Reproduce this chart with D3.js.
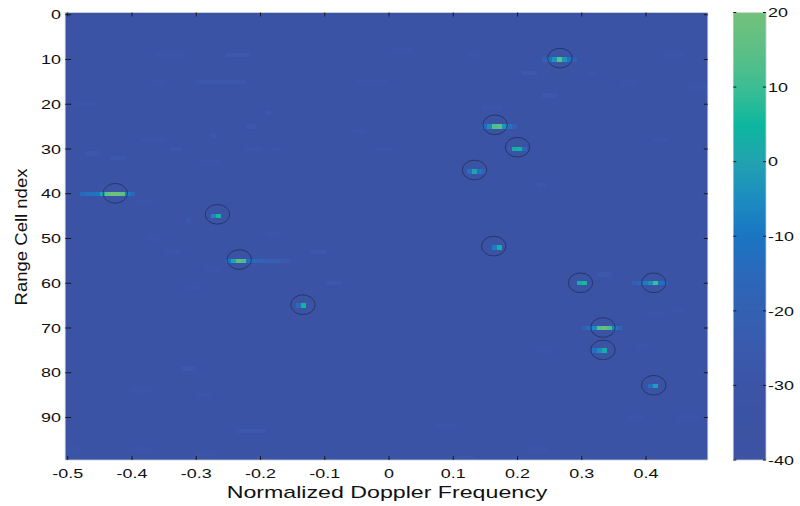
<!DOCTYPE html>
<html>
<head>
<meta charset="utf-8">
<script src="https://cdn.jsdelivr.net/npm/d3@7/dist/d3.min.js"></script>
<style>
  html, body { margin: 0; padding: 0; background: #fff; }
  svg { display: block; }
  text { font-family: "Liberation Sans", Arial, sans-serif; fill: #111; }
</style>
</head>
<body>
<svg id="chart" width="800" height="506"></svg>
<script>
// Range-Doppler map: 100 range cells x 128 Doppler bins, power in dB.
const nRange = 100;
const nDoppler = 128;
const floorDb = -34;

// Doppler bin centres: -0.5 + k/128
const dopplerTicks = [-0.5, -0.4, -0.3, -0.2, -0.1, 0, 0.1, 0.2, 0.3, 0.4];
const dopplerTickLabels = ["-0.5", "-0.4", "-0.3", "-0.2", "-0.1", "0", "0.1", "0.2", "0.3", "0.4"];
const rangeTicks = [0, 10, 20, 30, 40, 50, 60, 70, 80, 90];
const colorbarTicks = [20, 10, 0, -10, -20, -30, -40];

// Slightly raised clutter/noise streaks: [range cell, first bin, last bin, dB]
const noisePatches = [
  [8, 65, 68, -28], [9, 18, 23, -28], [9, 32, 36, -27], [9, 80, 82, -28], [9, 119, 122, -28],
  [13, 91, 93, -27], [13, 104, 105, -28], [15, 17, 19, -28], [15, 26, 35, -27], [15, 58, 63, -28],
  [15, 111, 113, -28], [16, 124, 127, -28], [18, 95, 97, -27], [20, 2, 5, -28], [21, 83, 86, -28],
  [22, 40, 40, -25], [25, 36, 37, -27], [26, 57, 59, -28], [27, 29, 29, -26], [28, 15, 19, -28],
  [28, 117, 119, -28], [30, 21, 22, -27], [30, 36, 38, -28], [30, 41, 42, -28], [30, 62, 64, -28],
  [31, 4, 6, -27], [32, 9, 11, -27], [33, 27, 30, -28], [38, 94, 95, -26], [42, 14, 16, -28],
  [46, 24, 24, -27], [49, 40, 42, -28], [50, 16, 18, -28], [53, 20, 22, -28], [53, 49, 51, -26],
  [57, 28, 30, -28], [58, 106, 108, -27], [60, 52, 54, -27], [61, 24, 26, -28], [66, 121, 122, -28],
  [67, 116, 118, -28], [74, 114, 115, -28], [75, 94, 96, -28], [79, 23, 25, -26], [84, 13, 16, -28],
  [85, 26, 28, -28], [90, 112, 114, -28], [90, 122, 125, -28], [92, 74, 77, -28], [93, 34, 39, -27],
  [97, 0, 2, -28], [97, 13, 16, -28], [97, 92, 95, -28], [98, 26, 29, -28], [99, 78, 81, -28]
];

// Target returns: [range cell, Doppler bin, dB]
const targetCells = [
  [10, 95, -20], [10, 96, -10], [10, 97, -3], [10, 98, 15], [10, 99, -3], [10, 100, -10], [10, 101, -20],
  [25, 83, -15], [25, 84, -5], [25, 85, 13], [25, 86, 15], [25, 87, -3], [25, 88, -12], [25, 89, -22],
  [30, 88, -25], [30, 89, 2], [30, 90, 5], [30, 91, -15],
  [35, 80, -12], [35, 81, 0], [35, 82, -10], [35, 83, -20],
  [40, 3, -15], [40, 4, -12], [40, 5, -12], [40, 6, -10], [40, 7, 0], [40, 8, 16], [40, 9, 19],
  [40, 10, 19], [40, 11, 16], [40, 12, -8], [40, 13, -15],
  [45, 29, -6], [45, 30, 6],
  [52, 85, -8], [52, 86, 3],
  [55, 32, -10], [55, 33, 2], [55, 34, 14], [55, 35, 12], [55, 36, -12], [55, 37, -15], [55, 38, -18],
  [55, 39, -19], [55, 40, -20], [55, 41, -22], [55, 42, -23], [55, 43, -25], [55, 44, -27],
  [60, 102, 3], [60, 103, 6],
  [60, 113, -22], [60, 114, -15], [60, 115, -8], [60, 116, -4], [60, 117, 10], [60, 118, -10], [60, 119, -14],
  [65, 46, -15], [65, 47, 5],
  [70, 103, -20], [70, 104, -12], [70, 105, -5], [70, 106, 14], [70, 107, 17], [70, 108, 12], [70, 109, -8], [70, 110, -15],
  [75, 105, -12], [75, 106, -5], [75, 107, 3],
  [83, 116, -12], [83, 117, -1]
];

// Detections marked on the map: Doppler and range of each circle centre
const detectDoppler = [0.266, 0.165, 0.200, 0.133, -0.426, -0.267, 0.163, -0.233, 0.298, 0.412, -0.134, 0.333, 0.333, 0.412];
const detectRange   = [9.7, 24.6, 29.6, 34.7, 39.9, 44.6, 51.7, 54.7, 59.9, 59.9, 64.8, 69.9, 74.9, 82.8];

// Build the power matrix
const power = [];
for (let r = 0; r < nRange; r++) power.push(new Array(nDoppler).fill(floorDb));
noisePatches.forEach(([r, k0, k1, v]) => { for (let k = k0; k <= k1; k++) power[r][k] = v; });
targetCells.forEach(([r, k, v]) => { power[r][k] = v; });

const cells = [];
for (let r = 0; r < nRange; r++)
  for (let k = 0; k < nDoppler; k++)
    cells.push({ r, f: -0.5 + k / nDoppler, v: power[r][k] });

// Colour map
const cmapStops = [-40, -30, -25, -20, -15, -10, -5, 0, 5, 10, 15, 20];
const cmapColors = ["#3c52a3", "#3b54a6", "#3a5aae", "#3460b2", "#2b68ba", "#1a75c3", "#1b8cc0", "#21a2b0",
                    "#0db79f", "#3cbd93", "#5cbf85", "#72c27a"];
const color = d3.scaleLinear().domain(cmapStops).range(cmapColors).interpolate(d3.interpolateRgb).clamp(true);

const svg = d3.select("#chart");
const X0 = 65.2, X1 = 707.8, Y0 = 12.5, Y1 = 460;
const half = 0.5 / nDoppler;
const x = d3.scaleLinear().domain([-0.5 - half, 0.5 - 1 / nDoppler + half]).range([X0, X1]);
const y = d3.scaleLinear().domain([-0.5, nRange - 0.5]).range([Y0, Y1]);
const cw = x(1 / nDoppler) - x(0);
const ch = y(1) - y(0);

const defs = svg.append("defs");
defs.append("clipPath").attr("id", "plotClip")
  .append("rect").attr("x", X0).attr("y", Y0).attr("width", X1 - X0).attr("height", Y1 - Y0);
defs.append("filter").attr("id", "soft").attr("x", "-2%").attr("y", "-2%").attr("width", "104%").attr("height", "104%")
  .append("feGaussianBlur").attr("stdDeviation", "0.7 0.6");

const plot = svg.append("g").attr("clip-path", "url(#plotClip)");
plot.append("rect").attr("x", X0).attr("y", Y0).attr("width", X1 - X0).attr("height", Y1 - Y0)
  .attr("fill", color(floorDb));
plot.append("g").attr("filter", "url(#soft)").append("g").attr("shape-rendering", "crispEdges")
  .selectAll("rect").data(cells).join("rect")
  .attr("x", d => x(d.f) - cw / 2)
  .attr("y", d => y(d.r) - ch / 2)
  .attr("width", cw + 0.5)
  .attr("height", ch + 0.5)
  .attr("fill", d => color(d.v));

// Detection circles
plot.append("g").selectAll("ellipse").data(detectDoppler).join("ellipse")
  .attr("cx", (d) => x(d))
  .attr("cy", (d, i) => y(detectRange[i]))
  .attr("rx", x(0.019) - x(0))
  .attr("ry", y(2.2) - y(0))
  .attr("fill", "none")
  .attr("stroke", "#1d2a55")
  .attr("stroke-opacity", 0.8)
  .attr("stroke-width", 0.9);

// Axes frame
svg.append("rect").attr("x", X0).attr("y", Y0).attr("width", X1 - X0).attr("height", Y1 - Y0)
  .attr("fill", "none").attr("stroke", "#c9cbd3").attr("stroke-width", 0.8);

const tickLen = 4;
const ticks = svg.append("g").attr("stroke", "#1a1a1a").attr("stroke-width", 1);
dopplerTicks.forEach(t => {
  ticks.append("line").attr("x1", x(t)).attr("x2", x(t)).attr("y1", Y1).attr("y2", Y1 - tickLen);
  ticks.append("line").attr("x1", x(t)).attr("x2", x(t)).attr("y1", Y0).attr("y2", Y0 + tickLen);
});
rangeTicks.forEach(t => {
  ticks.append("line").attr("x1", X0).attr("x2", X0 + tickLen + 2).attr("y1", y(t)).attr("y2", y(t));
  ticks.append("line").attr("x1", X1).attr("x2", X1 - tickLen).attr("y1", y(t)).attr("y2", y(t));
});

const SX = 1.38; // horizontal glyph stretch of the labels
function hText(g, tx, ty, str, size, anchor) {
  return g.append("text")
    .attr("transform", `translate(${tx},${ty}) scale(${SX},1)`)
    .attr("text-anchor", anchor)
    .attr("font-size", size)
    .text(str);
}

const labels = svg.append("g");
dopplerTicks.forEach((t, i) => hText(labels, x(t), 477.7, dopplerTickLabels[i], 13, "middle"));
rangeTicks.forEach(t => hText(labels, 61, y(t) + 4.7, String(t), 13, "end"));
hText(labels, 387, 498.3, "Normalized Doppler Frequency", 16.8, "middle");

labels.append("text")
  .attr("transform", `translate(27,237) rotate(-90)`)
  .attr("text-anchor", "middle")
  .attr("font-size", 17)
  .attr("textLength", 137)
  .attr("lengthAdjust", "spacingAndGlyphs")
  .text("Range Cell ndex");

// Colour bar
const CB0 = 733.3, CB1 = 766;
const cy = d3.scaleLinear().domain([-40, 20]).range([Y1, Y0]);
const steps = d3.range(-40, 20, 0.25);
svg.append("g").attr("shape-rendering", "crispEdges")
  .selectAll("rect").data(steps).join("rect")
  .attr("x", CB0).attr("width", CB1 - CB0)
  .attr("y", d => cy(d + 0.25))
  .attr("height", d => Math.min(cy(-40) - cy(-39.75) + 0.6, Y1 - cy(d + 0.25)))
  .attr("fill", d => color(d + 0.125));
svg.append("rect").attr("x", CB0).attr("y", Y0).attr("width", CB1 - CB0).attr("height", Y1 - Y0)
  .attr("fill", "none").attr("stroke", "#c9cbd3").attr("stroke-width", 0.8);
const cbt = svg.append("g").attr("stroke", "#1a1a1a").attr("stroke-width", 1);
colorbarTicks.forEach(t => {
  cbt.append("line").attr("x1", CB0).attr("x2", CB0 + 3).attr("y1", cy(t)).attr("y2", cy(t));
  cbt.append("line").attr("x1", CB1).attr("x2", CB1 - 3).attr("y1", cy(t)).attr("y2", cy(t));
  hText(labels, 768, cy(t) + 4.7, String(t), 13, "start");
});
</script>
</body>
</html>
